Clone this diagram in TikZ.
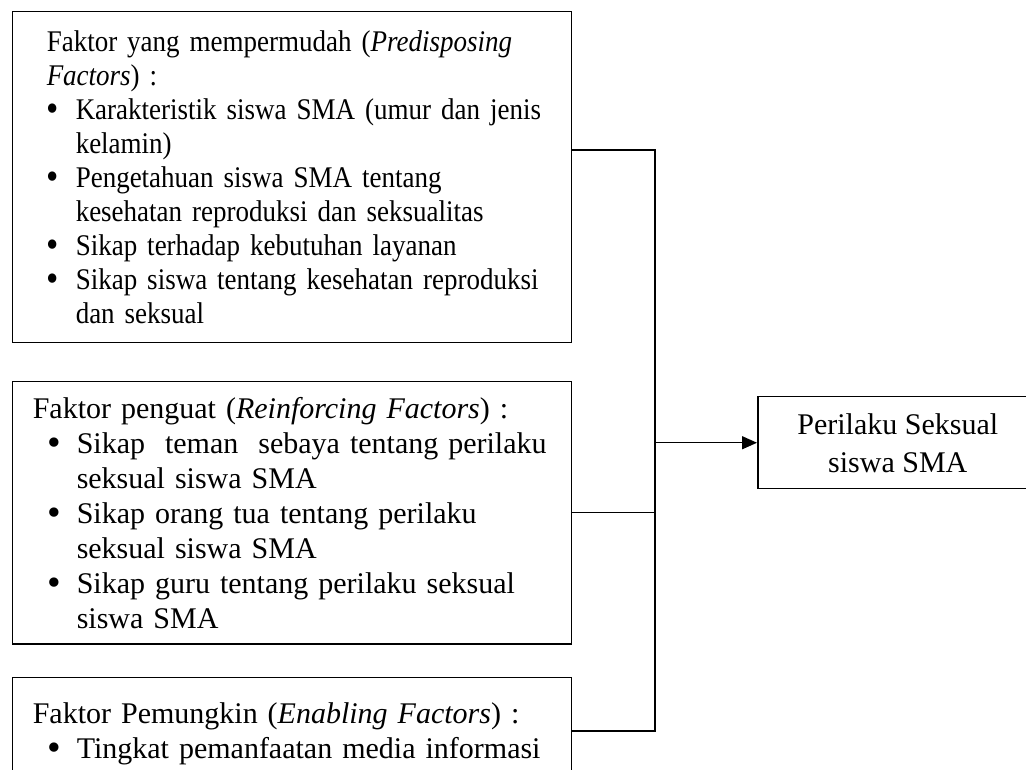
\documentclass[tikz,border=0pt]{standalone}
\usepackage{fontspec}
\setmainfont{Liberation Serif}
\newfontfamily\hurufsempit[FakeStretch=0.9]{Liberation Serif}
\usepackage{graphicx}
\usepackage{tikz}
\usetikzlibrary{arrows.meta}

\newlength\geserbutir
\newlength\jorokbutir
\newcommand{\judul}[1]{\mbox{#1}}
\newcommand{\butir}[1]{\mbox{\hspace*{\geserbutir}\makebox[\dimexpr\jorokbutir-\geserbutir\relax][l]{\raisebox{-0.15ex}{\scalebox{1.3}{\textbullet}}}#1}}
\newcommand{\lanjut}[1]{\mbox{\hspace*{\jorokbutir}#1}}

\begin{document}
\begin{tikzpicture}[x=0.4pt,y=-0.4pt,
    garis/.style={line width=0.6pt},
    kotak/.style={draw,garis,rectangle,anchor=north west,align=left},
    jorok lebar/.style={inner xsep=13.8pt,text width=196pt,
        font=\hurufsempit\fontsize{12}{13.6}\selectfont,
        execute at begin node={\setlength\geserbutir{0pt}\setlength\jorokbutir{11.6pt}}},
    jorok sempit/.style={inner xsep=8.2pt,text width=207.2pt,
        font=\fontsize{12}{14}\selectfont,
        execute at begin node={\setlength\geserbutir{5.8pt}\setlength\jorokbutir{17.6pt}}},
    hasil/.style={draw,garis,rectangle,anchor=north west,align=center,
        minimum width=112pt,minimum height=36.8pt,
        font=\fontsize{12}{15.2}\selectfont},
    panah/.style={garis,-{Triangle[length=6pt,width=5.2pt]}}]

    % Page frame
    \useasboundingbox (0,0) rectangle (1026,770);
    \clip (0,0) rectangle (1026,770);

    % Predisposing factors
    \node[kotak,jorok lebar,minimum height=132.4pt] (predisposisi) at (11.5,11) {%
        \judul{Faktor yang mempermudah (\textit{Predisposing}}\\
        \judul{\textit{Factors}) :}\\
        \butir{Karakteristik siswa SMA (umur dan jenis}\\
        \lanjut{kelamin)}\\
        \butir{Pengetahuan siswa SMA tentang}\\
        \lanjut{kesehatan reproduksi dan seksualitas}\\
        \butir{Sikap terhadap kebutuhan layanan}\\
        \butir{Sikap siswa tentang kesehatan reproduksi}\\
        \lanjut{dan seksual}};

    % Reinforcing factors
    \node[kotak,jorok sempit,minimum height=104.8pt] (penguat) at (11.5,381) {%
        \judul{Faktor penguat (\textit{Reinforcing Factors}) :}\\
        \butir{Sikap\ \ teman\ \ sebaya tentang perilaku}\\
        \lanjut{seksual siswa SMA}\\
        \butir{Sikap orang tua tentang perilaku}\\
        \lanjut{seksual siswa SMA}\\
        \butir{Sikap guru tentang perilaku seksual}\\
        \lanjut{siswa SMA}};

    % Enabling factors (runs past the page)
    \node[kotak,jorok sempit,inner ysep=9.8pt,text depth=40pt] (pemungkin) at (11.5,677) {%
        \judul{Faktor Pemungkin (\textit{Enabling Factors}) :}\\
        \butir{Tingkat pemanfaatan media informasi}};

    % Outcome
    \node[hasil] (perilaku) at (757,396) {Perilaku Seksual\\siswa SMA};

    % Connectors
    \coordinate (simpul atas) at (655,150);
    \coordinate (simpul bawah) at (655,731);
    \draw[garis] (predisposisi.east |- simpul atas) -- (simpul atas)
        -- (simpul bawah) -- (pemungkin.east |- simpul bawah);
    \draw[garis] (penguat.east) -- (penguat.east -| simpul atas);
    \draw[panah] (perilaku.west -| simpul atas) -- (perilaku.west);
\end{tikzpicture}
\end{document}
